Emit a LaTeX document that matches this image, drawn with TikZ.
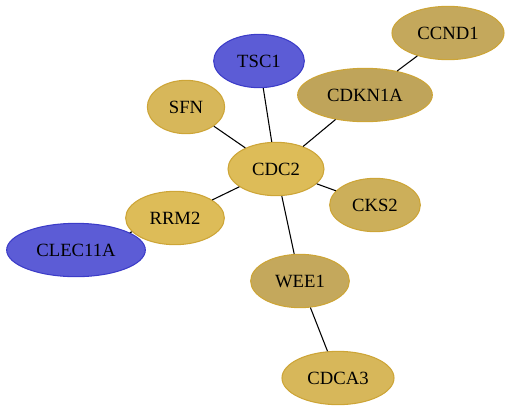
\documentclass[tikz,border=0pt]{standalone}
\usepackage{fontspec}
\setmainfont{Liberation Serif}
\usepackage{xcolor}
\usepackage{tikz}
\usetikzlibrary{shapes.geometric, positioning}
\definecolor{gold}{RGB}{221,188,88}
\definecolor{goldsfn}{RGB}{215,183,90}
\definecolor{olive}{RGB}{191,164,90}
\definecolor{oliveb}{RGB}{196,168,92}
\definecolor{cks}{RGB}{204,175,90}
\definecolor{goldline}{RGB}{205,165,55}
\definecolor{bluefill}{RGB}{92,92,214}
\definecolor{blueline}{RGB}{60,60,200}

\tikzset{
    gene/.style={ellipse, draw=goldline, line width=0.8pt, inner sep=0pt, minimum height=40pt, font=\fontsize{14}{16}\selectfont},
    link/.style={draw, line width=0.8pt}
}

\begin{document}
\begin{tikzpicture}[x=0.75pt, y=-0.75pt]
            \useasboundingbox (0,0) rectangle (511,412);
            \node (cdc2) [gene, fill=gold, minimum width=72pt] at (276,169) {CDC2};
            \node (tsc1) [gene, fill=bluefill, draw=blueline, minimum width=68pt] at (259,61) {TSC1};
            \node (sfn) [gene, fill=goldsfn, minimum width=58pt] at (186,107) {SFN};
            \node (cdkn1a) [gene, fill=olive, minimum width=101pt] at (365,95) {CDKN1A};
            \node (ccnd1) [gene, fill=oliveb, minimum width=84pt] at (448,33) {CCND1};
            \node (cks2) [gene, fill=cks, minimum width=68pt] at (375,205) {CKS2};
            \node (rrm2) [gene, fill=gold, minimum width=74pt] at (175,218) {RRM2};
            \node (clec11a) [gene, fill=bluefill, draw=blueline, minimum width=104pt] at (76,250) {CLEC11A};
            \node (wee1) [gene, fill=oliveb, minimum width=74pt] at (300,281) {WEE1};
            \node (cdca3) [gene, fill=goldsfn, minimum width=84pt] at (338,378) {CDCA3};
            
                \draw[link] (cdc2) -- (tsc1);
                \draw[link] (cdc2) -- (sfn);
                \draw[link] (cdc2) -- (cdkn1a);
                \draw[link] (cdkn1a) -- (ccnd1);
                \draw[link] (cdc2) -- (cks2);
                \draw[link] (cdc2) -- (rrm2);
                \draw[link] (rrm2) -- (clec11a);
                \draw[link] (cdc2) -- (wee1);
                \draw[link] (wee1) -- (cdca3);
            \end{tikzpicture}
\end{document}
